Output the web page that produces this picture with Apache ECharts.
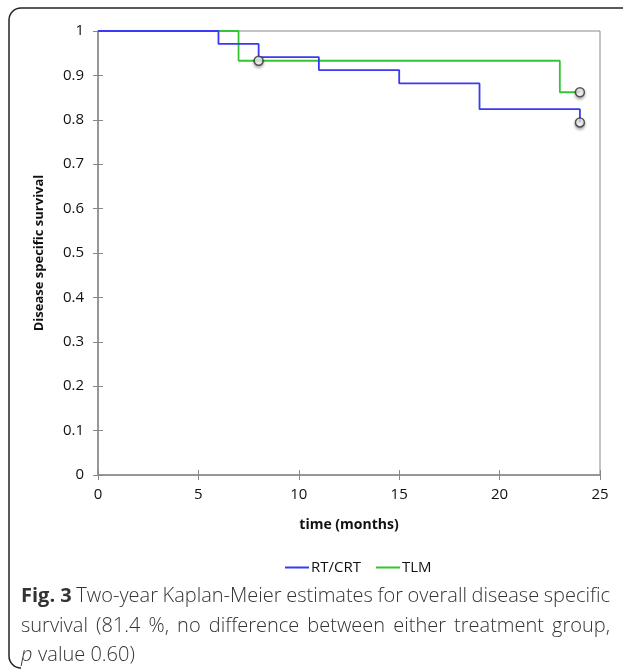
<!DOCTYPE html>
<html>
<head>
<meta charset="utf-8">
<script src="https://cdn.jsdelivr.net/npm/echarts@6/dist/echarts.min.js"></script>
<style>
  html, body { margin: 0; padding: 0; background: #fff; }
  #chart { width: 627px; height: 670px; }
</style>
</head>
<body>
<div id="chart"></div>
<script>
// Kaplan-Meier step points (time in months, survival)
const rtTimes = [0, 6, 8, 11, 15, 19, 24];
const rtSurv = [1, 0.971, 0.941, 0.912, 0.882, 0.824, 0.794];
const tlmTimes = [0, 7, 23, 24];
const tlmSurv = [1, 0.933, 0.862, 0.862];
// censored observations
const censTimes = [8, 24, 24];
const censSurv = [0.933, 0.862, 0.794];

const captionLines = [
  ["Fig. 3", " Two-year Kaplan-Meier estimates for overall disease specific"],
  ["", "survival (81.4 %, no difference between either treatment group,"],
  ["", "p value 0.60)"]
];

const pairs = (xs, ys) => xs.map((x, i) => [x, ys[i]]);

const chart = echarts.init(document.getElementById("chart"));

const axisColor = "#888";
const labelFont = "'Open Sans', sans-serif";

// justified caption built word by word
const ctx = document.createElement("canvas").getContext("2d");
const capSize = 20;
const capLeft = 21, capRight = 610;
const capTops = [586, 616, 645];
const caption = [];
captionLines.forEach((line, li) => {
  const words = [];
  if (line[0]) words.push({ t: line[0], bold: true });
  line[1].trim().split(" ").forEach((w) => words.push({ t: w, bold: false }));
  const fontOf = (w) => (w.bold ? "bold " : "300 ") + capSize + "px 'Open Sans'";
  const widths = words.map((w) => { ctx.font = fontOf(w); return ctx.measureText(w.t).width; });
  const total = widths.reduce((a, b) => a + b, 0);
  ctx.font = fontOf({ bold: false });
  const spaceW = ctx.measureText(" ").width;
  const gap = li < 2 ? (capRight - capLeft - total) / (words.length - 1) : spaceW;
  let x = capLeft;
  words.forEach((w, i) => {
    caption.push({
      type: "text",
      left: x,
      top: capTops[li],
      style: {
        text: w.t,
        font: (li === 2 && w.t === "p" ? "italic " : "") + fontOf(w),
        fill: "#333"
      }
    });
    x += widths[i] + gap;
  });
});

const frameStyle = { fill: null, stroke: "#222", lineWidth: 1.5 };

chart.setOption({
  animation: false,
  grid: {
    left: 98, right: 27, top: 31, bottom: 195,
    show: true, borderColor: axisColor, borderWidth: 1
  },
  legend: {
    top: 555,
    left: 279,
    itemWidth: 24,
    itemHeight: 2,
    itemGap: 14,
    textStyle: { fontFamily: labelFont, fontSize: 15, color: "#111", padding: [0, 0, 0, -3] },
    data: ["RT/CRT", "TLM"]
  },
  xAxis: [
    {
      type: "value", min: 0, max: 25, interval: 5,
      name: "time (months)", nameLocation: "middle", nameGap: 43,
      nameTextStyle: { fontFamily: labelFont, fontSize: 14, fontWeight: "bold", color: "#111" },
      axisLine: { lineStyle: { color: axisColor, width: 1.5 } },
      axisTick: { length: 5, lineStyle: { color: axisColor } },
      axisLabel: { fontFamily: labelFont, fontSize: 15, color: "#111", margin: 12 },
      splitLine: { show: false }
    },
    {
      type: "value", min: 0, max: 25, interval: 5, position: "bottom",
      axisLine: { show: false },
      axisTick: { inside: true, length: 5, lineStyle: { color: axisColor } },
      axisLabel: { show: false }, splitLine: { show: false }
    }
  ],
  yAxis: [
    {
      type: "value", min: 0, max: 1, interval: 0.1,
      name: "Disease specific survival", nameLocation: "middle", nameGap: 52,
      nameTextStyle: { fontFamily: labelFont, fontSize: 13, fontWeight: "bold", color: "#111" },
      axisLine: { show: true, lineStyle: { color: axisColor, width: 1.5 } },
      axisTick: { show: true, length: 5, lineStyle: { color: axisColor } },
      axisLabel: { fontFamily: labelFont, fontSize: 15, color: "#111", margin: 14,
        formatter: (v) => String(+v.toFixed(1)) },
      splitLine: { show: false }
    },
    {
      type: "value", min: 0, max: 1, interval: 0.1, position: "left",
      axisLine: { show: false },
      axisTick: { show: true, inside: true, length: 5, lineStyle: { color: axisColor } },
      axisLabel: { show: false }, splitLine: { show: false }
    }
  ],
  series: [
    {
      name: "RT/CRT", type: "line", step: "end", symbol: "none",
      lineStyle: { color: "#3a3af5", width: 1.8 }, itemStyle: { color: "#3a3af5" },
      data: pairs(rtTimes, rtSurv), z: 3
    },
    {
      name: "TLM", type: "line", step: "end", symbol: "none",
      lineStyle: { color: "#33c633", width: 1.8 }, itemStyle: { color: "#33c633" },
      data: pairs(tlmTimes, tlmSurv), z: 2
    },
    {
      name: "censored", type: "scatter", symbol: "circle", symbolSize: 9,
      itemStyle: {
        color: "#fff", borderColor: "#333", borderWidth: 1.5,
        shadowColor: "rgba(0,0,0,0.35)", shadowBlur: 3, shadowOffsetY: 2
      },
      data: pairs(censTimes, censSurv), z: 5
    }
  ],
  graphic: [
    { type: "line", shape: { x1: 21, y1: 8, x2: 623, y2: 8 }, style: frameStyle },
    { type: "line", shape: { x1: 9, y1: 20, x2: 9, y2: 656 }, style: frameStyle },
    { type: "arc", shape: { cx: 21, cy: 20, r: 12, startAngle: Math.PI, endAngle: Math.PI * 1.5 }, style: frameStyle },
    { type: "arc", shape: { cx: 21, cy: 656, r: 12, startAngle: Math.PI * 0.5, endAngle: Math.PI }, style: frameStyle }
  ].concat(caption)
});
</script>
</body>
</html>
